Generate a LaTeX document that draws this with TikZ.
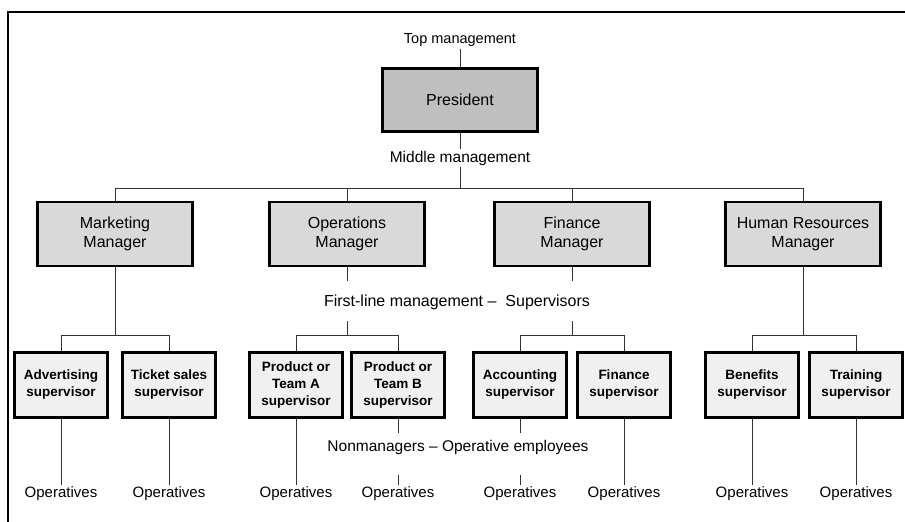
\documentclass[tikz,border=0pt]{standalone}
\usepackage{fontspec}
\setmainfont{Liberation Sans}
\usepackage{xcolor}
\usepackage{tikz}

\begin{document}
\begin{tikzpicture}[x=1pt, y=-1pt,
    link/.style={draw=black!80, line width=1pt},
    presbox/.style={draw, line width=2.4pt, fill=black!25, minimum width=155pt, minimum height=63pt, font=\fontsize{16}{19}\selectfont},
    mgrbox/.style={draw, line width=2.4pt, fill=black!15, minimum width=155pt, minimum height=64pt, align=center, font=\fontsize{16}{19}\selectfont},
    supbox/.style={draw, line width=2.4pt, fill=black!6, minimum width=93pt, minimum height=65pt, inner sep=1pt, align=center, font=\fontsize{13.5}{17}\selectfont\bfseries},
    level/.style={inner sep=2pt, font=\fontsize{15.5}{18}\selectfont},
    oper/.style={inner sep=2pt, font=\fontsize{15}{18}\selectfont}]
  	\useasboundingbox (0,0) rectangle (905,522);
  	\draw[line width=2.2pt] (8,522) -- (8,12) -- (905,12);
  	% levels
  	\node[level, font=\fontsize{14.5}{17}\selectfont] (top) at (460,40) {Top management};
  	\node[level] (mid) at (460,158) {Middle management};
  	\node[level, font=\fontsize{16}{19}\selectfont] (first) at (457,302) {First-line management --\ \ Supervisors};
  	\node[level] (nonm) at (458,447) {Nonmanagers -- Operative employees};
  	% president and managers
  	\node[presbox] (pres) at (460,100) {President};
  	\node[mgrbox] (mkt) at (115,234) {Marketing\\Manager};
  	\node[mgrbox] (ops) at (347,234) {Operations\\Manager};
  	\node[mgrbox] (fin) at (572,234) {Finance\\Manager};
  	\node[mgrbox] (hr) at (803,234) {Human Resources\\Manager};
  	% supervisors
  	\node[supbox] (adv) at (61,385) {Advertising\\supervisor};
  	\node[supbox] (tkt) at (169,385) {Ticket sales\\supervisor};
  	\node[supbox] (pa) at (296,385) {Product or\\Team A\\supervisor};
  	\node[supbox] (pb) at (398,385) {Product or\\Team B\\supervisor};
  	\node[supbox] (acc) at (520,385) {Accounting\\supervisor};
  	\node[supbox] (fsup) at (624,385) {Finance\\supervisor};
  	\node[supbox] (ben) at (752,385) {Benefits\\supervisor};
  	\node[supbox] (trn) at (856,385) {Training\\supervisor};
  	% operatives
  	\node[oper] (op1) at (61,494) {Operatives};
  	\node[oper] (op2) at (169,494) {Operatives};
  	\node[oper] (op3) at (296,494) {Operatives};
  	\node[oper] (op4) at (398,494) {Operatives};
  	\node[oper] (op5) at (520,494) {Operatives};
  	\node[oper] (op6) at (624,494) {Operatives};
  	\node[oper] (op7) at (752,494) {Operatives};
  	\node[oper] (op8) at (856,494) {Operatives};
  	% top links
  	\coordinate (midbar) at (460,188);
  	\draw[link] (top.south) -- (pres.north);
  	\draw[link] (pres.south) -- (mid.north);
  	\draw[link] (mid.south) -- (midbar);
  	\draw[link] (mkt.north) -- (mkt.north |- midbar) -| (hr.north);
  	\draw[link] (ops.north) -- (ops.north |- midbar);
  	\draw[link] (fin.north) -- (fin.north |- midbar);
  	% manager to supervisor links
  	\draw[link] (adv.north) -- ++(0,-16) coordinate (mktbar) -| (tkt.north);
  	\draw[link] (mkt.south) -- (mkt.south |- mktbar);
  	\draw[link] (pa.north) -- ++(0,-16) coordinate (opsbar) -| (pb.north);
  	\draw[link] (ops.south) -- ++(0,14);
  	\draw[link] (ops.south |- opsbar) -- ++(0,-14);
  	\draw[link] (acc.north) -- ++(0,-16) coordinate (finbar) -| (fsup.north);
  	\draw[link] (fin.south) -- ++(0,14);
  	\draw[link] (fin.south |- finbar) -- ++(0,-14);
  	\draw[link] (ben.north) -- ++(0,-16) coordinate (hrbar) -| (trn.north);
  	\draw[link] (hr.south) -- (hr.south |- hrbar);
  	% supervisor to operatives links
  	\draw[link] (adv.south) -- (op1.north);
  	\draw[link] (tkt.south) -- (op2.north);
  	\draw[link] (pa.south) -- (op3.north);
  	\draw[link] (pb.south) -- ++(0,14);
  	\draw[link] (op4.north) -- ++(0,-10);
  	\draw[link] (acc.south) -- ++(0,14);
  	\draw[link] (op5.north) -- ++(0,-10);
  	\draw[link] (fsup.south) -- (op6.north);
  	\draw[link] (ben.south) -- (op7.north);
  	\draw[link] (trn.south) -- (op8.north);
\end{tikzpicture}
\end{document}
